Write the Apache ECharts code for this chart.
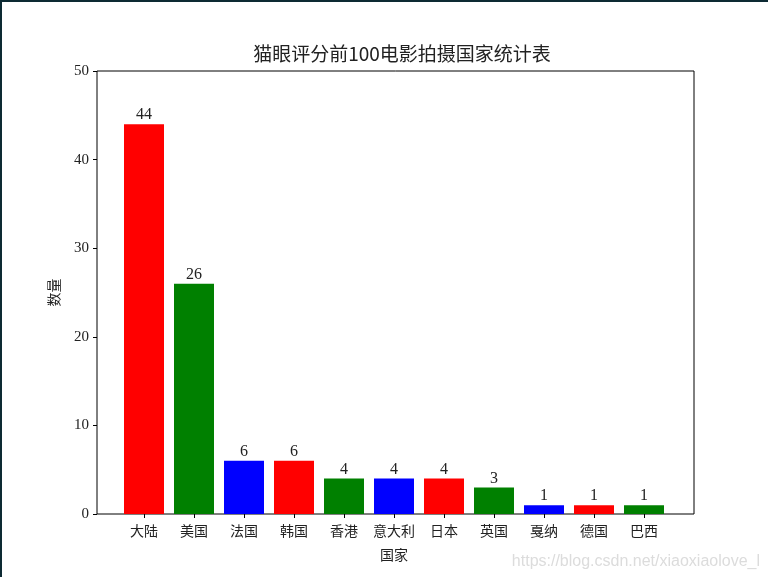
<!DOCTYPE html>
<html>
<head>
<meta charset="utf-8">
<script src="https://cdn.jsdelivr.net/npm/echarts@6/dist/echarts.min.js"></script>
<style>
  html, body { margin: 0; padding: 0; background: #fff; }
  #chart { width: 768px; height: 577px; box-sizing: border-box; border-top: 2px solid #0d2a33; border-left: 2px solid #0d2a33; }
</style>
</head>
<body>
<div id="chart"></div>
<script>
// 猫眼评分前100电影拍摄国家
const countries = ['大陆', '美国', '法国', '韩国', '香港', '意大利', '日本', '英国', '戛纳', '德国', '巴西']
const counts = [44, 26, 6, 6, 4, 4, 4, 3, 1, 1, 1]
const barColors = ['#ff0000', '#008000', '#0000ff']

const serif = "'Liberation Serif', 'Noto Sans CJK SC', serif"
const cjk = "'Noto Sans CJK SC', sans-serif"

const chart = echarts.init(document.getElementById('chart'))

const option = {
  backgroundColor: '#fff',
  animation: false,
  title: {
    text: '猫眼评分前100电影拍摄国家统计表',
    left: 395,
    textAlign: 'center',
    top: 37,
    textStyle: { fontFamily: cjk, fontSize: 19, fontWeight: 'normal', color: '#222' }
  },
  grid: [
    // outer frame with the y axis
    { left: 95, top: 69, width: 597, height: 443, show: true, borderColor: '#000', borderWidth: 1, backgroundColor: 'transparent' },
    // inner grid for the bars (matplotlib margins)
    { left: 117, top: 69, width: 550, height: 443 }
  ],
  xAxis: [
    { gridIndex: 0, type: 'value', min: 0, max: 1, show: false },
    {
      gridIndex: 1,
      type: 'category',
      data: countries,
      name: '国家',
      nameLocation: 'middle',
      nameGap: 34,
      nameTextStyle: { fontFamily: cjk, fontSize: 14, color: '#222' },
      axisLine: { show: false },
      axisTick: { show: true, alignWithLabel: true, interval: 0, length: 4, lineStyle: { color: '#000' } },
      axisLabel: { interval: 0, margin: 10, fontFamily: cjk, fontSize: 14, color: '#222' }
    }
  ],
  yAxis: [
    {
      gridIndex: 0,
      type: 'value',
      min: 0,
      max: 50,
      interval: 10,
      name: '数量',
      nameLocation: 'middle',
      nameGap: 36,
      nameTextStyle: { fontFamily: cjk, fontSize: 14, color: '#222' },
      axisLine: { show: false },
      axisTick: { show: true, length: 4, lineStyle: { color: '#000' } },
      axisLabel: { margin: 8, fontFamily: serif, fontSize: 15, color: '#222' },
      splitLine: { show: false }
    },
    { gridIndex: 1, type: 'value', min: 0, max: 50, show: false, splitLine: { show: false } }
  ],
  series: [
    {
      type: 'bar',
      xAxisIndex: 1,
      yAxisIndex: 1,
      data: counts.map((v, i) => ({ value: v, itemStyle: { color: barColors[i % 3] } })),
      barCategoryGap: '20%',
      label: {
        show: true,
        position: 'top',
        distance: 1,
        fontFamily: serif,
        fontSize: 16,
        color: '#222'
      }
    }
  ],
  graphic: [
    {
      type: 'text',
      right: 8,
      top: 552,
      style: {
        text: 'https://blog.csdn.net/xiaoxiaolove_l',
        fontFamily: "'Liberation Sans', Arial, sans-serif",
        fontSize: 16,
        fill: '#dcdcdc'
      }
    }
  ]
}

chart.setOption(option)
</script>
</body>
</html>
